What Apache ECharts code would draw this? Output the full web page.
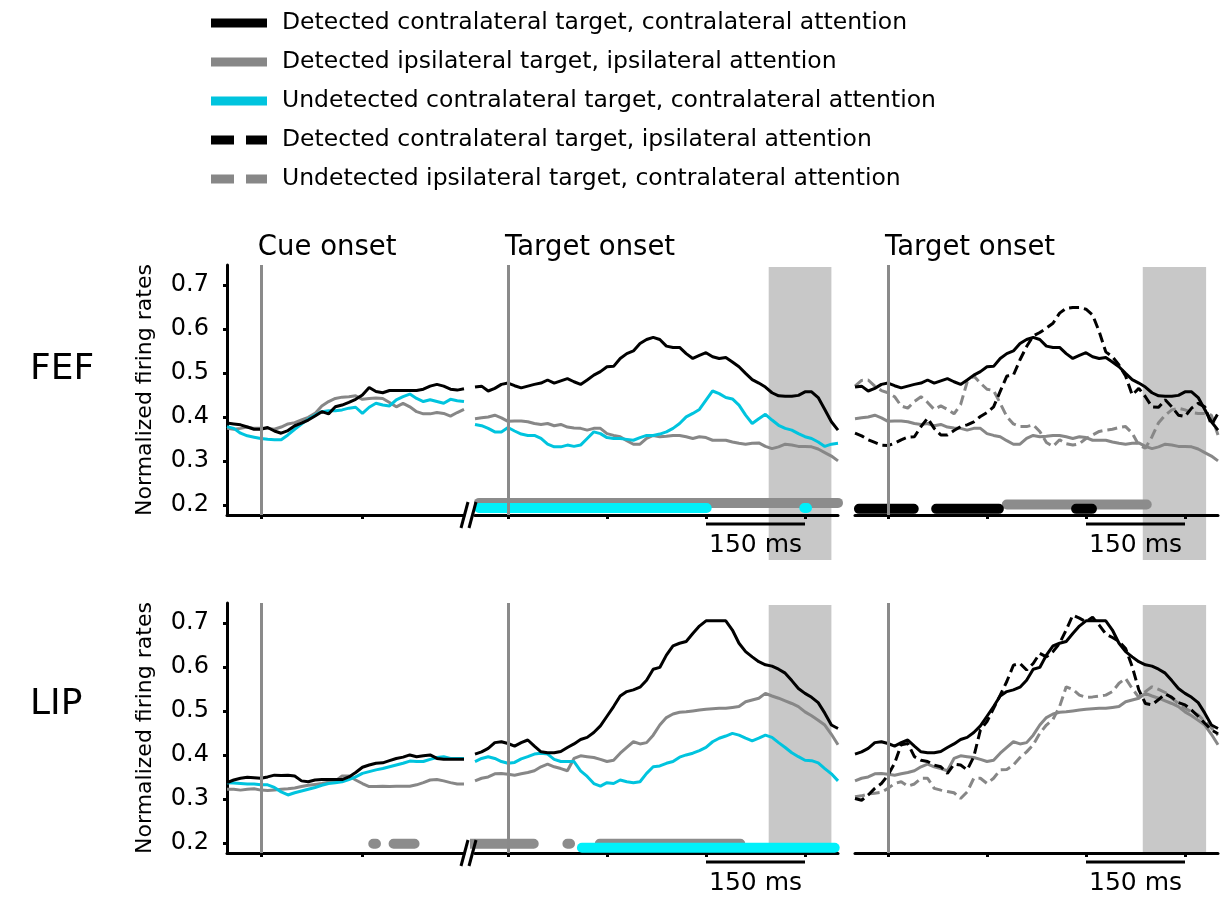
<!DOCTYPE html>
<html>
<head>
<meta charset="utf-8">
<script src="https://cdn.jsdelivr.net/npm/echarts@6/dist/echarts.min.js"></script>
<style>
  html, body { margin: 0; padding: 0; background: #fff; }
  #chart { width: 1224px; height: 899px; }
</style>
</head>
<body>
<div id="chart"></div>
<script>
// time bases in ms (cue panel and target panels)
const tCue = [-50, -40, -30, -20, -10, 0, 10, 20, 30, 40, 50, 60, 70, 80, 90, 100, 110, 120, 130, 140,
  150, 160, 170, 180, 190, 200, 210, 220, 230, 240, 250, 260, 270, 280, 290, 300];
const tTgt = [-50, -40, -30, -20, -10, 0, 10, 20, 30, 40, 50, 60, 70, 80, 90, 100, 110, 120, 130, 140,
  150, 160, 170, 180, 190, 200, 210, 220, 230, 240, 250, 260, 270, 280, 290, 300, 310, 320, 330, 340,
  350, 360, 370, 380, 390, 400, 410, 420, 430, 440, 450, 460, 470, 480, 490, 500];

const yTicks = [0.2, 0.3, 0.4, 0.5, 0.6, 0.7];
const xTicksCue = [0, 150];
const xTicksTgt = [0, 150, 300, 450];

// FEF, cue onset
const fefCueBlack = [.386, .384, .382, .377, .372, .372, .376, .368, .363, .369, .380, .386, .393, .402, .412, .407, .423, .427, .433, .440,
  .450, .467, .458, .455, .460, .460, .460, .460, .460, .463, .470, .474, .470, .463, .461, .464];
const fefCueGray = [.374, .372, .374, .377, .374, .374, .374, .372, .377, .384, .387, .393, .399, .408, .425, .435, .442, .445, .446, .448,
  .440, .442, .443, .442, .433, .423, .431, .423, .412, .407, .407, .410, .408, .402, .410, .417];
const fefCueCyan = [.378, .374, .363, .357, .354, .351, .349, .348, .348, .359, .372, .384, .395, .404, .412, .414, .414, .416, .420, .422,
  .408, .422, .431, .427, .425, .439, .446, .452, .442, .435, .439, .435, .431, .440, .437, .435];

// FEF, target onset
const fefTgtBlack = [.468, .470, .459, .465, .474, .477, .471, .466, .470, .474, .477, .484, .477, .482, .487, .480, .474, .484, .495, .503,
  .514, .515, .533, .544, .550, .567, .576, .581, .576, .561, .558, .558, .544, .533, .540, .546, .537, .533, .535, .525,
  .514, .499, .485, .477, .468, .455, .448, .447, .447, .449, .457, .457, .444, .417, .389, .370];
const fefTgtGray = [.396, .398, .400, .404, .398, .390, .391, .391, .389, .385, .383, .385, .380, .383, .377, .375, .374, .370, .374, .374,
  .362, .358, .355, .346, .338, .338, .351, .358, .355, .356, .358, .358, .355, .351, .355, .353, .347, .347, .347, .343,
  .340, .338, .340, .341, .333, .328, .332, .338, .336, .333, .333, .332, .327, .319, .311, .300];
const fefTgtCyan = [.383, .380, .374, .366, .366, .376, .368, .361, .358, .358, .351, .338, .332, .332, .336, .333, .336, .351, .366, .362,
  .353, .351, .351, .349, .347, .353, .358, .358, .361, .366, .374, .385, .400, .408, .417, .438, .459, .453, .444, .441,
  .427, .404, .385, .396, .406, .393, .381, .374, .370, .362, .355, .351, .343, .333, .338, .340];
const fefTgtBlackDash = [.363, .357, .348, .342, .336, .335, .340, .348, .354, .355, .378, .397, .374, .359, .359, .369, .378, .382, .389, .401,
  .410, .423, .458, .493, .495, .530, .560, .584, .592, .602, .613, .636, .647, .649, .649, .645, .632, .594, .548, .537,
  .518, .493, .450, .465, .446, .423, .422, .439, .423, .404, .401, .420, .431, .423, .382, .408];
const fefTgtGrayDash = [.470, .483, .484, .470, .460, .455, .446, .425, .420, .435, .446, .433, .417, .425, .417, .407, .428, .480, .493, .477,
  .463, .460, .431, .401, .384, .378, .378, .382, .367, .342, .333, .348, .339, .336, .339, .351, .359, .367, .370, .372,
  .376, .378, .363, .336, .329, .355, .387, .404, .416, .420, .416, .410, .408, .408, .404, .359];

// LIP, cue onset
const lipCueBlack = [.337, .343, .347, .349, .348, .347, .350, .354, .353, .354, .352, .341, .339, .343, .344, .344, .344, .344, .350, .360,
  .372, .377, .381, .382, .387, .392, .395, .400, .396, .398, .400, .392, .390, .390, .390, .390];
const lipCueGray = [.322, .322, .320, .322, .323, .320, .319, .320, .322, .323, .325, .328, .331, .333, .335, .338, .341, .352, .352, .343,
  .335, .328, .328, .329, .328, .329, .329, .329, .332, .337, .343, .344, .341, .337, .334, .334];
const lipCueCyan = [.337, .336, .335, .334, .334, .332, .332, .326, .316, .309, .314, .318, .322, .326, .331, .335, .337, .339, .344, .350,
  .358, .362, .366, .369, .373, .377, .381, .386, .385, .385, .390, .394, .396, .392, .392, .392];

// LIP, target onset
const lipTgtBlack = [.402, .407, .415, .428, .430, .426, .420, .428, .434, .420, .407, .405, .405, .408, .417, .425, .435, .440, .451, .466,
  .488, .510, .534, .544, .548, .554, .570, .595, .599, .627, .648, .654, .658, .676, .693, .705, .705, .705, .705, .684,
  .654, .635, .623, .612, .605, .602, .595, .586, .569, .551, .540, .531, .519, .495, .468, .460];
const lipTgtGray = [.341, .347, .350, .357, .358, .356, .354, .357, .360, .364, .373, .379, .373, .369, .364, .392, .398, .396, .394, .390,
  .385, .388, .404, .417, .430, .425, .428, .445, .468, .485, .493, .497, .498, .500, .502, .504, .505, .506, .506, .508,
  .510, .521, .525, .529, .540, .534, .529, .523, .517, .510, .498, .489, .479, .468, .447, .423];
const lipTgtCyan = [.385, .392, .396, .392, .385, .381, .383, .391, .396, .402, .404, .402, .390, .385, .385, .385, .364, .351, .335, .329,
  .337, .335, .343, .339, .337, .339, .358, .373, .375, .381, .385, .395, .400, .404, .410, .417, .430, .438, .443, .449,
  .445, .438, .432, .438, .445, .440, .428, .417, .405, .396, .388, .387, .382, .369, .357, .341];
const lipTgtBlackDash = [.301, .297, .309, .324, .335, .354, .381, .423, .426, .396, .388, .385, .377, .373, .358, .379, .377, .366, .396, .457,
  .476, .506, .536, .567, .604, .608, .593, .608, .631, .623, .635, .654, .684, .718, .711, .703, .713, .695, .675, .667,
  .658, .642, .601, .548, .517, .514, .526, .539, .531, .519, .514, .502, .488, .472, .457, .448];
const lipTgtGrayDash = [.305, .307, .311, .313, .315, .324, .335, .339, .329, .334, .347, .347, .324, .320, .317, .314, .301, .316, .347, .347,
  .335, .347, .366, .367, .377, .394, .407, .423, .449, .468, .481, .510, .555, .549, .536, .531, .532, .534, .536, .544,
  .563, .574, .551, .531, .544, .555, .549, .542, .529, .517, .506, .498, .491, .476, .461, .445];

// significance runs [start, end] in ms
const sigFefTgtGray = [[-44, 500]];
const sigFefTgtCyan = [[-44, 301], [449, 453]];
const sigFefRightBlack = [[-44, 39], [73, 168], [285, 309]];
const sigFefRightGray = [[180, 392]];
const sigLipCueGray = [[166, 170], [196, 227]];
const sigLipTgtGray = [[-62, 39], [90, 94], [139, 352]];
const sigLipTgtCyan = [[112, 495]];

// grey response window
const shadeTgt = [395, 490];
const shadeRight = [386, 482];

const names = [
  'Detected contralateral target, contralateral attention',
  'Detected ipsilateral target, ipsilateral attention',
  'Undetected contralateral target, contralateral attention',
  'Detected contralateral target, ipsilateral attention',
  'Undetected ipsilateral target, contralateral attention'
];

const FONT = 'DejaVu Sans';
const BLACK = '#000000';
const GRAY = '#878787';
const CYAN = '#00c4de';
const SIG_GRAY = '#8c8c8c';
const SIG_CYAN = '#00f0fa';

// layout of the 6 panels
const rowTop = [265, 603];
const plotH = 250;
const colLeft = [227, 475, 855];
const colWidth = [237, 363, 363];
const colMax = [300, 500, 500];

const grids = [], xAxes = [], yAxes = [];
for (let r = 0; r < 2; r++) {
  for (let c = 0; c < 3; c++) {
    const g = r * 3 + c;
    grids.push({ left: colLeft[c], top: rowTop[r], width: colWidth[c], height: plotH });
    xAxes.push({
      gridIndex: g, type: 'value', min: -50, max: colMax[c],
      axisLine: { show: true, onZero: false, lineStyle: { color: BLACK, width: 3 } },
      axisTick: { show: true, customValues: c === 0 ? xTicksCue : xTicksTgt, length: 4, lineStyle: { color: BLACK, width: 3 } },
      axisLabel: { show: false },
      splitLine: { show: false }
    });
    yAxes.push({
      gridIndex: g, type: 'value', min: 0.177, max: 0.7455, show: c === 0,
      axisLine: { show: true, onZero: false, lineStyle: { color: BLACK, width: 3 } },
      axisTick: { show: true, customValues: yTicks, length: 4, lineStyle: { color: BLACK, width: 3 } },
      axisLabel: {
        customValues: yTicks, formatter: v => v.toFixed(1), margin: 18,
        fontFamily: FONT, fontSize: 24, color: BLACK
      },
      splitLine: { show: false },
      name: 'Normalized firing rates', nameLocation: 'middle', nameRotate: 90, nameGap: 71,
      nameTextStyle: { fontFamily: FONT, fontSize: 22, color: BLACK }
    });
  }
}

function curve(name, g, times, vals, color, dashed) {
  return {
    name: name, type: 'line', xAxisIndex: g, yAxisIndex: g,
    data: times.map((t, i) => [t, vals[i]]),
    symbol: 'none', silent: true, z: 3,
    lineStyle: { color: color, width: 3, type: dashed ? [10, 5] : 'solid' },
    itemStyle: { color: color }
  };
}

function onsetLine(series) {
  series.markLine = {
    silent: true, symbol: ['none', 'none'], label: { show: false },
    lineStyle: { color: '#8a8a8a', width: 3, type: 'solid' },
    data: [{ xAxis: 0 }]
  };
  return series;
}

function sig(g, runs, level, color) {
  const data = [];
  runs.forEach(r => { data.push([r[0], level], [r[1], level], [r[1], '-']); });
  return {
    name: 'significance', type: 'line', xAxisIndex: g, yAxisIndex: g,
    data: data, symbol: 'none', silent: true, clip: false, z: 4,
    lineStyle: { color: color, width: 10, cap: 'round' }
  };
}

const series = [
  // FEF
  onsetLine(curve(names[1], 0, tCue, fefCueGray, GRAY)),
  curve(names[2], 0, tCue, fefCueCyan, CYAN),
  curve(names[0], 0, tCue, fefCueBlack, BLACK),
  onsetLine(curve(names[1], 1, tTgt, fefTgtGray, GRAY)),
  curve(names[2], 1, tTgt, fefTgtCyan, CYAN),
  curve(names[0], 1, tTgt, fefTgtBlack, BLACK),
  onsetLine(curve(names[1], 2, tTgt, fefTgtGray, GRAY)),
  curve(names[4], 2, tTgt, fefTgtGrayDash, GRAY, true),
  curve(names[0], 2, tTgt, fefTgtBlack, BLACK),
  curve(names[3], 2, tTgt, fefTgtBlackDash, BLACK, true),
  sig(1, sigFefTgtGray, 0.2045, SIG_GRAY),
  sig(1, sigFefTgtCyan, 0.193, SIG_CYAN),
  sig(2, sigFefRightGray, 0.201, SIG_GRAY),
  sig(2, sigFefRightBlack, 0.191, BLACK),
  // LIP
  onsetLine(curve(names[1], 3, tCue, lipCueGray, GRAY)),
  curve(names[2], 3, tCue, lipCueCyan, CYAN),
  curve(names[0], 3, tCue, lipCueBlack, BLACK),
  onsetLine(curve(names[1], 4, tTgt, lipTgtGray, GRAY)),
  curve(names[2], 4, tTgt, lipTgtCyan, CYAN),
  curve(names[0], 4, tTgt, lipTgtBlack, BLACK),
  onsetLine(curve(names[1], 5, tTgt, lipTgtGray, GRAY)),
  curve(names[4], 5, tTgt, lipTgtGrayDash, GRAY, true),
  curve(names[0], 5, tTgt, lipTgtBlack, BLACK),
  curve(names[3], 5, tTgt, lipTgtBlackDash, BLACK, true),
  sig(3, sigLipCueGray, 0.198, SIG_GRAY),
  sig(4, sigLipTgtGray, 0.198, SIG_GRAY),
  sig(4, sigLipTgtCyan, 0.189, SIG_CYAN)
];

const solidIcon = 'rect';
const dashIcon = 'path://M0,0H23V9H0Z M35,0H56V9H35Z';

const option = {
  backgroundColor: '#ffffff',
  animation: false,
  legend: {
    orient: 'vertical', left: 206, top: 6,
    itemWidth: 56, itemHeight: 9, itemGap: 15,
    selectedMode: false,
    textStyle: { fontFamily: FONT, fontSize: 23.5, color: BLACK, padding: [0, 0, 0, 10] },
    data: [
      { name: names[0], icon: solidIcon },
      { name: names[1], icon: solidIcon },
      { name: names[2], icon: solidIcon },
      { name: names[3], icon: dashIcon },
      { name: names[4], icon: dashIcon }
    ]
  },
  grid: grids,
  xAxis: xAxes,
  yAxis: yAxes,
  series: series
};

const chart = echarts.init(document.getElementById('chart'));
chart.setOption(option);

// annotations placed through the axes' own scales
const px = (g, t, v) => chart.convertToPixel({ gridIndex: g }, [t, v]);
const graphics = [];

[[1, shadeTgt], [2, shadeRight], [4, shadeTgt], [5, shadeRight]].forEach(([g, s]) => {
  const r = g < 3 ? 0 : 1;
  const x0 = px(g, s[0], 0.5)[0], x1 = px(g, s[1], 0.5)[0];
  const top = rowTop[r] + 2;
  const bottom = r === 0 ? 560 : rowTop[r] + plotH;
  graphics.push({ type: 'rect', silent: true, z: -10,
    shape: { x: x0, y: top, width: x1 - x0, height: bottom - top }, style: { fill: '#c8c8c8' } });
});

// 150 ms scale bars
[1, 2, 4, 5].forEach(g => {
  const r = g < 3 ? 0 : 1;
  const x0 = px(g, 300, 0.5)[0], x1 = px(g, 450, 0.5)[0];
  const y = rowTop[r] + plotH + 9;
  graphics.push({ type: 'line', silent: true, shape: { x1: x0, y1: y, x2: x1, y2: y },
    style: { stroke: BLACK, lineWidth: 3 } });
  graphics.push({ type: 'text', silent: true, x: (x0 + x1) / 2, y: y + 21,
    style: { text: '150 ms', font: '25px "DejaVu Sans"', fill: BLACK, align: 'center', verticalAlign: 'middle' } });
});

// onset titles
[[0, 'Cue onset'], [1, 'Target onset'], [2, 'Target onset']].forEach(([g, txt]) => {
  graphics.push({ type: 'text', silent: true, x: px(g, 0, 0.5)[0] - 3, y: rowTop[0] - 17,
    style: { text: txt, font: '27.5px "DejaVu Sans"', fill: BLACK, align: 'left', verticalAlign: 'middle' } });
});

// area labels
[['FEF', 370], ['LIP', 705]].forEach(([txt, y]) => {
  graphics.push({ type: 'text', silent: true, x: 30, y: y,
    style: { text: txt, font: '36px "DejaVu Sans"', fill: BLACK, align: 'left', verticalAlign: 'middle' } });
});

// axis break marks
rowTop.forEach(top => {
  const yb = top + plotH;
  [461, 469].forEach(x => {
    graphics.push({ type: 'line', silent: true, z: 5, shape: { x1: x, y1: yb + 13, x2: x + 7, y2: yb - 13 },
      style: { stroke: BLACK, lineWidth: 3 } });
  });
});

chart.setOption({ graphic: graphics });
</script>
</body>
</html>
